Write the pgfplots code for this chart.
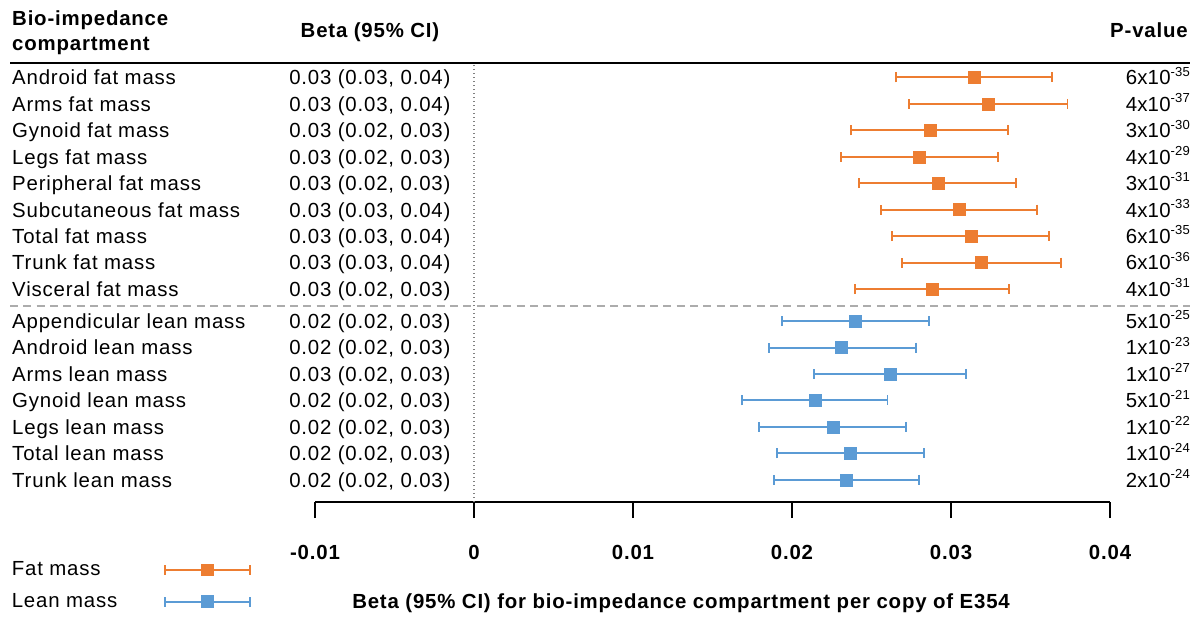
\documentclass[border=0pt]{standalone}
\usepackage{fontspec}
\setmainfont{Liberation Sans}[LetterSpace=4]
\usepackage{pgfplots}
\pgfplotsset{compat=1.18}
\usepackage{pgfplotstable}
\definecolor{fatc}{HTML}{ED7D31}
\definecolor{leanc}{HTML}{5B9BD5}
\newcommand{\fs}{\fontsize{15.3}{18}\selectfont}
\newcommand{\pval}[2]{{\addfontfeature{LetterSpace=1}#1x10\raisebox{0.42em}{\fontsize{9.8}{10}\selectfont #2}}}

% y = row position, b = beta, ep/em = upper/lower half widths of 95% CI
\pgfplotstableread{
y     b       ep      em
16.21 0.03145 0.00492 0.00491
15.21 0.03235 0.00497 0.00499
14.21 0.02868 0.00488 0.00499
13.21 0.02803 0.00491 0.00497
12.21 0.02918 0.00491 0.00497
11.21 0.03050 0.00493 0.00492
10.21 0.03130 0.00486 0.00501
9.21  0.03187 0.00503 0.00495
8.21  0.02883 0.00482 0.00485
}\fat
\pgfplotstableread{
y     b       ep      em
7     0.02400 0.00462 0.00461
6     0.02312 0.00466 0.00457
5     0.02616 0.00478 0.00478
4     0.02143 0.00457 0.00455
3     0.02260 0.00457 0.00468
2     0.02369 0.00461 0.00461
1     0.02344 0.00455 0.00457
}\lean

\begin{document}
\begin{tikzpicture}[
  lab/.style={anchor=base west, font=\fs, inner sep=0pt, yshift=-5.5pt},
  pv/.style={anchor=base east, font=\fs, inner sep=0pt, yshift=-5.5pt},
  hdr/.style={font=\fs\bfseries, inner sep=0pt}]
\begin{axis}[
  scale only axis, width=596.25pt, height=329.2pt,
  xmin=-0.01, xmax=0.04, ymin=0.157, ymax=16.75,
  clip=false,
  axis x line=bottom, axis y line=none,
  x axis line style={-, line width=1.1pt},
  xtick={-0.01,0,0.01,0.02,0.03,0.04},
  xticklabels={-0.01,0,0.01,0.02,0.03,0.04},
  scaled x ticks=false,
  tick align=outside, major tick length=12pt,
  tick style={black, line width=1.1pt},
  xticklabel style={font=\fs\bfseries, yshift=-17pt},
  ytick=\empty,
  xlabel={Beta (95\% CI) for bio-impedance compartment per copy of E354},
  xlabel style={font=\fs\bfseries, at={(axis description cs:0.4604,-0.230)}, anchor=center},
  legend style={at={(axis cs:-0.02925,-1.98)}, anchor=north west, draw=none, fill=none,
    inner sep=0pt, legend plot pos=right, cells={anchor=west, font=\fs},
    row sep=8pt, column sep=33pt},
]
% separators
\draw[line width=1.5pt] (axis cs:-0.02918,16.75) -- (axis cs:0.04503,16.75);
\draw[gray!65, line width=1.5pt, dash pattern=on 6pt off 4pt] (axis cs:-0.02918,7.57) -- (axis cs:0.04503,7.57);
\draw[gray, line width=1pt, dotted] (axis cs:0,0.157) -- (axis cs:0,16.7);

\addplot[only marks, mark=square*, mark size=4.5pt, color=fatc, mark options={solid, fill=fatc, draw=fatc},
  error bars/.cd, x dir=both, x explicit, error mark=|,
  error bar style={line width=1.5pt, fatc},
  error mark options={line width=1.4pt, mark size=3.75pt, fatc},
  /pgfplots/legend image code/.code={
    \draw[fatc, line width=1.4pt] (0pt,0pt) -- (63.75pt,0pt);
    \draw[fatc, line width=1.4pt] (0pt,-3.75pt) -- (0pt,3.75pt);
    \draw[fatc, line width=1.4pt] (63.75pt,-3.75pt) -- (63.75pt,3.75pt);
    \fill[fatc] (27.6pt,-4.3pt) rectangle (36.2pt,4.3pt);
  }]
  table[x=b, y=y, x error plus=ep, x error minus=em] {\fat};
\addlegendentry{Fat mass}
\addplot[only marks, mark=square*, mark size=4.5pt, color=leanc, mark options={solid, fill=leanc, draw=leanc},
  error bars/.cd, x dir=both, x explicit, error mark=|,
  error bar style={line width=1.5pt, leanc},
  error mark options={line width=1.4pt, mark size=3.75pt, leanc},
  /pgfplots/legend image code/.code={
    \draw[leanc, line width=1.4pt] (0pt,0pt) -- (63.75pt,0pt);
    \draw[leanc, line width=1.4pt] (0pt,-3.75pt) -- (0pt,3.75pt);
    \draw[leanc, line width=1.4pt] (63.75pt,-3.75pt) -- (63.75pt,3.75pt);
    \fill[leanc] (27.2pt,-4.5pt) rectangle (36.2pt,4.5pt);
  }]
  table[x=b, y=y, x error plus=ep, x error minus=em] {\lean};
\addlegendentry{Lean mass}

% headers
\node[hdr, anchor=base west] at (axis cs:-0.029057,18.19) {Bio-impedance};
\node[hdr, anchor=base west] at (axis cs:-0.029057,17.21) {compartment};
\node[hdr, anchor=base] at (axis cs:-0.00654,17.70) {Beta (95\% CI)};
\node[hdr, anchor=base east] at (axis cs:0.0449,17.70) {P-value};

% row labels
\node[lab] at (axis cs:-0.029057,16.21) {Android fat mass};
\node[lab] at (axis cs:-0.029057,15.21) {Arms fat mass};
\node[lab] at (axis cs:-0.029057,14.21) {Gynoid fat mass};
\node[lab] at (axis cs:-0.029057,13.21) {Legs fat mass};
\node[lab] at (axis cs:-0.029057,12.21) {Peripheral fat mass};
\node[lab] at (axis cs:-0.029057,11.21) {Subcutaneous fat mass};
\node[lab] at (axis cs:-0.029057,10.21) {Total fat mass};
\node[lab] at (axis cs:-0.029057,9.21) {Trunk fat mass};
\node[lab] at (axis cs:-0.029057,8.21) {Visceral fat mass};
\node[lab] at (axis cs:-0.029057,7) {Appendicular lean mass};
\node[lab] at (axis cs:-0.029057,6) {Android lean mass};
\node[lab] at (axis cs:-0.029057,5) {Arms lean mass};
\node[lab] at (axis cs:-0.029057,4) {Gynoid lean mass};
\node[lab] at (axis cs:-0.029057,3) {Legs lean mass};
\node[lab] at (axis cs:-0.029057,2) {Total lean mass};
\node[lab] at (axis cs:-0.029057,1) {Trunk lean mass};

% beta column
\node[lab] at (axis cs:-0.011635,16.21) {0.03 (0.03, 0.04)};
\node[lab] at (axis cs:-0.011635,15.21) {0.03 (0.03, 0.04)};
\node[lab] at (axis cs:-0.011635,14.21) {0.03 (0.02, 0.03)};
\node[lab] at (axis cs:-0.011635,13.21) {0.03 (0.02, 0.03)};
\node[lab] at (axis cs:-0.011635,12.21) {0.03 (0.02, 0.03)};
\node[lab] at (axis cs:-0.011635,11.21) {0.03 (0.03, 0.04)};
\node[lab] at (axis cs:-0.011635,10.21) {0.03 (0.03, 0.04)};
\node[lab] at (axis cs:-0.011635,9.21) {0.03 (0.03, 0.04)};
\node[lab] at (axis cs:-0.011635,8.21) {0.03 (0.02, 0.03)};
\node[lab] at (axis cs:-0.011635,7) {0.02 (0.02, 0.03)};
\node[lab] at (axis cs:-0.011635,6) {0.02 (0.02, 0.03)};
\node[lab] at (axis cs:-0.011635,5) {0.03 (0.02, 0.03)};
\node[lab] at (axis cs:-0.011635,4) {0.02 (0.02, 0.03)};
\node[lab] at (axis cs:-0.011635,3) {0.02 (0.02, 0.03)};
\node[lab] at (axis cs:-0.011635,2) {0.02 (0.02, 0.03)};
\node[lab] at (axis cs:-0.011635,1) {0.02 (0.02, 0.03)};

% p-values
\node[pv] at (axis cs:0.04503,16.21) {\pval{6}{-35}};
\node[pv] at (axis cs:0.04503,15.21) {\pval{4}{-37}};
\node[pv] at (axis cs:0.04503,14.21) {\pval{3}{-30}};
\node[pv] at (axis cs:0.04503,13.21) {\pval{4}{-29}};
\node[pv] at (axis cs:0.04503,12.21) {\pval{3}{-31}};
\node[pv] at (axis cs:0.04503,11.21) {\pval{4}{-33}};
\node[pv] at (axis cs:0.04503,10.21) {\pval{6}{-35}};
\node[pv] at (axis cs:0.04503,9.21) {\pval{6}{-36}};
\node[pv] at (axis cs:0.04503,8.21) {\pval{4}{-31}};
\node[pv] at (axis cs:0.04503,7) {\pval{5}{-25}};
\node[pv] at (axis cs:0.04503,6) {\pval{1}{-23}};
\node[pv] at (axis cs:0.04503,5) {\pval{1}{-27}};
\node[pv] at (axis cs:0.04503,4) {\pval{5}{-21}};
\node[pv] at (axis cs:0.04503,3) {\pval{1}{-22}};
\node[pv] at (axis cs:0.04503,2) {\pval{1}{-24}};
\node[pv] at (axis cs:0.04503,1) {\pval{2}{-24}};

\coordinate (BL) at (axis cs:-0.02981,-4.153);
\coordinate (TR) at (axis cs:0.04553,19.136);
\end{axis}
\pgfresetboundingbox
\path[use as bounding box] (BL) rectangle (TR);
\end{tikzpicture}
\end{document}
